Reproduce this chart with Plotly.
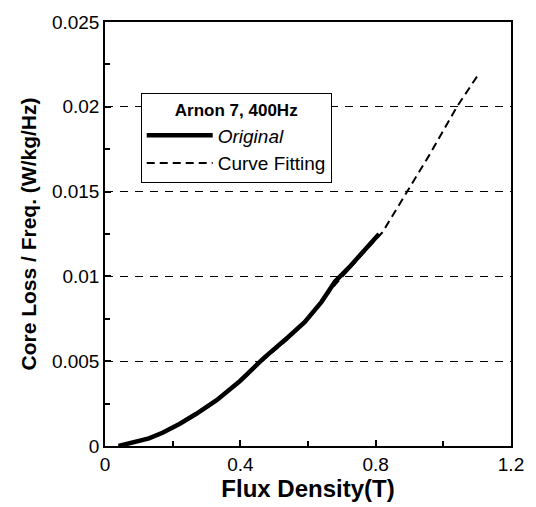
import plotly.graph_objects as go

# Original measured curve
orig_x = [0.04, 0.08, 0.13, 0.17, 0.22, 0.27, 0.33, 0.40, 0.47, 0.54, 0.59, 0.64, 0.68, 0.72, 0.76, 0.81]
orig_y = [0.0, 0.0002, 0.00045, 0.00078, 0.0013, 0.0019, 0.0027, 0.00385, 0.0052, 0.0064, 0.0073, 0.0085, 0.0097, 0.0105, 0.0114, 0.0125]

# Curve fitting
fit_x = [0.04, 0.08, 0.13, 0.17, 0.22, 0.27, 0.33, 0.40, 0.47, 0.54, 0.60, 0.68, 0.76, 0.82, 0.89, 0.96, 1.04, 1.10]
fit_y = [0.0, 0.00018, 0.0005, 0.0008, 0.0013, 0.0019, 0.0027, 0.0038, 0.0051, 0.0063, 0.0075, 0.0095, 0.0113, 0.0126, 0.0149, 0.0172, 0.0200, 0.0218]

x_ticks = [0, 0.4, 0.8, 1.2]
x_tick_text = ["0", "0.4", "0.8", "1.2"]
y_ticks = [0, 0.005, 0.01, 0.015, 0.02, 0.025]
y_tick_text = ["0", "0.005", "0.01", "0.015", "0.02", "0.025"]

fig = go.Figure()
fig.add_trace(go.Scatter(x=fit_x, y=fit_y, mode="lines", name="Curve Fitting",
                         line=dict(color="black", width=2, dash="8px,5px"), legendrank=2))
fig.add_trace(go.Scatter(x=orig_x, y=orig_y, mode="lines", name="<i>Original</i>",
                         line=dict(color="black", width=4.5), legendrank=1))

font_family = "Liberation Sans, Arial, sans-serif"

axis_common = dict(
    showline=True, linecolor="black", linewidth=1.5, mirror=True,
    ticks="inside", ticklen=6, tickcolor="black", tickwidth=1.5,
    zeroline=False,
    tickfont=dict(family=font_family, size=19, color="black"),
)

fig.update_xaxes(range=[0, 1.2], tickvals=x_ticks, ticktext=x_tick_text,
                 showgrid=False,
                 minor=dict(ticks="inside", ticklen=5, tickcolor="black", dtick=0.2, tick0=0, showgrid=False),
                 title=dict(text="<b>Flux Density(T)</b>", font=dict(family=font_family, size=24, color="black"), standoff=0),
                 **axis_common)
fig.update_yaxes(range=[0, 0.025], tickvals=y_ticks, ticktext=y_tick_text,
                 showgrid=True, gridcolor="black", gridwidth=1, griddash="8px,7px",
                 minor=dict(ticks="inside", ticklen=5, tickcolor="black", dtick=0.0025, tick0=0, showgrid=False),
                 title=dict(text="<b>Core Loss / Freq. (W/kg/Hz)</b>", font=dict(family=font_family, size=21, color="black"), standoff=10),
                 **axis_common)

fig.update_layout(
    width=536, height=507,
    margin=dict(l=105, r=15, t=17, b=61),
    paper_bgcolor="white", plot_bgcolor="white",
    showlegend=True,
    legend=dict(
        x=0.088, y=0.832, xanchor="left", yanchor="top",
        bgcolor="white", bordercolor="black", borderwidth=1,
        font=dict(family=font_family, size=19, color="black"),
        title=dict(text="<b>Arnon 7, 400Hz</b>", side="top center",
                   font=dict(family=font_family, size=17, color="black")),
        itemwidth=66, tracegroupgap=0,
    ),
)

fig.write_html("out.html")
